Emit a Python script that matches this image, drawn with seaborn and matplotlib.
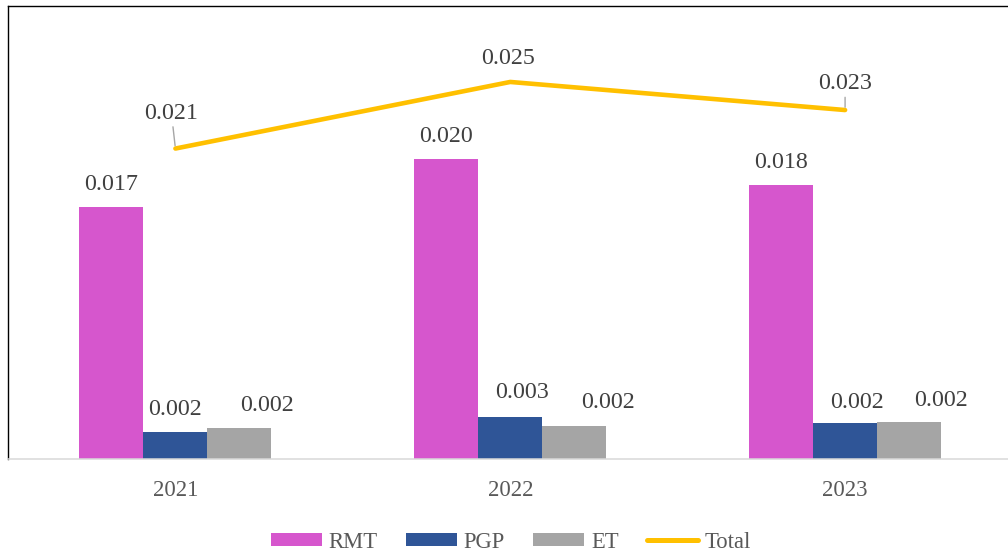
import matplotlib
matplotlib.use("Agg")
import matplotlib.pyplot as plt
from matplotlib.patches import Patch
from matplotlib.lines import Line2D
import numpy as np
import pandas as pd
import seaborn as sns

# Data
years = ["2021", "2022", "2023"]
rmt = [0.01669, 0.01987, 0.01815]
pgp = [0.00179, 0.00278, 0.00238]
et = [0.00205, 0.00219, 0.00245]
total = [0.02056, 0.02497, 0.02311]
series_names = ["RMT", "PGP", "ET"]

colors = {"RMT": "#D656CD", "PGP": "#2F5597", "ET": "#A5A5A5"}
total_color = "#FFC000"
label_color = "#404040"
tick_color = "#595959"

sns.set_theme(style="white")
plt.rcParams["font.family"] = ["Liberation Serif", "DejaVu Serif"]

df = pd.DataFrame({
    "year": years * 3,
    "series": [s for s in series_names for _ in years],
    "value": rmt + pgp + et,
})

fig = plt.figure(figsize=(10.08, 5.52), dpi=100)
ax = fig.add_axes([8 / 1008, 93 / 552, 1004.5 / 1008, 453 / 552])

sns.barplot(data=df, x="year", y="value", hue="series", order=years,
            hue_order=series_names, palette=colors, saturation=1,
            width=0.573, errorbar=None, legend=False, linewidth=0,
            edgecolor="none", ax=ax)

sns.lineplot(x=years, y=total, color=total_color, linewidth=3.3,
             solid_capstyle="round", ax=ax)

ax.set_xlim(-0.5, 2.5)
ax.set_ylim(0, 0.03)
ax.set_xlabel("")
ax.set_ylabel("")
ax.set_yticks([])
ax.tick_params(axis="x", length=0, labelsize=16.5, colors=tick_color, pad=15)

for side in ("left", "top"):
    ax.spines[side].set_color("black")
    ax.spines[side].set_linewidth(1.0)
ax.spines["right"].set_visible(False)
ax.spines["bottom"].set_color("#D9D9D9")
ax.spines["bottom"].set_linewidth(1.1)

# Bar value labels (nudges in pixels: dx, baseline gap above bar)
bar_nudges = {
    "RMT": [(0, 17), (0, 17), (0, 17)],
    "PGP": [(0, 17), (12, 19), (12, 15)],
    "ET": [(28, 17), (34, 18), (32, 16)],
}
for container, name in zip(ax.containers, series_names):
    for bar, (dx, dy) in zip(container.patches, bar_nudges[name]):
        h = bar.get_height()
        cx = bar.get_x() + bar.get_width() / 2
        ax.annotate(f"{h:.3f}", xy=(cx, h), xytext=(dx, dy),
                    textcoords="offset pixels", ha="center", va="baseline",
                    fontsize=17.3, color=label_color)

# Total labels with leader lines
total_nudges = [(-4, 30), (-2, 18), (0, 21)]
leaders = [True, False, True]
for i, (v, (dx, dy), lead) in enumerate(zip(total, total_nudges, leaders)):
    arrow = dict(arrowstyle="-", color="#A6A6A6", lw=1.0,
                 shrinkA=0, shrinkB=2) if lead else None
    ax.annotate(f"{v:.3f}", xy=(i, v), xytext=(dx, dy),
                textcoords="offset pixels", ha="center", va="baseline",
                fontsize=17.3, color=label_color, arrowprops=arrow)

handles = [Patch(facecolor=colors[n], edgecolor="none") for n in series_names]
handles.append(Line2D([0], [0], color=total_color, linewidth=3.6,
                      solid_capstyle="round"))
fig.legend(handles, series_names + ["Total"], loc="center",
           bbox_to_anchor=(511 / 1008, 1 - 542 / 552), ncol=4, frameon=False,
           fontsize=16.3, labelcolor=tick_color, handlelength=2.25,
           handleheight=0.55, handletextpad=0.3, columnspacing=1.25)

fig.savefig("out.png", dpi=100)
